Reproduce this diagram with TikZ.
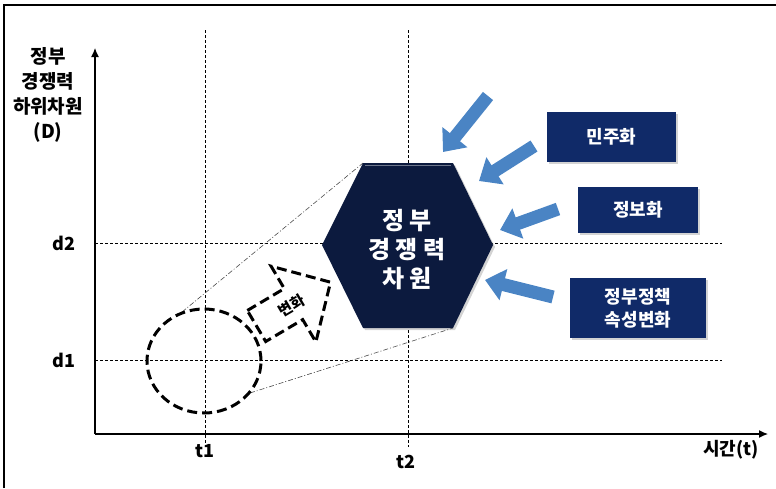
\documentclass[tikz,border=0pt]{standalone}
\usepackage{fontspec}
\setmainfont{Noto Sans CJK KR}
\usetikzlibrary{arrows.meta,shadows,shapes.geometric}
\definecolor{hexnavy}{RGB}{12,26,62}
\definecolor{boxblue}{RGB}{16,42,104}
\definecolor{arrowblue}{RGB}{74,132,196}
\begin{document}
\begin{tikzpicture}[x=1pt,y=-1pt,
  gridline/.style={line width=0.8pt, dash pattern=on 3pt off 2pt},
  axisline/.style={line width=1.2pt, -{Latex[length=9pt,width=8pt]}},
  tangent/.style={line width=0.6pt, dash pattern=on 5pt off 2pt on 1pt off 2pt, black!70},
  bigdash/.style={line width=3pt, dash pattern=on 10pt off 5pt},
  factor/.style={fill=boxblue, text=white, font=\bfseries\fontsize{18}{23}\selectfont, align=center, inner sep=0pt,
     drop shadow={shadow xshift=2pt, shadow yshift=-2pt, opacity=0.35}},
  bluearrow/.style={arrowblue, line width=13pt, -{Triangle[width=31pt,length=19pt]}},
  lbl/.style={font=\bfseries\fontsize{18}{20}\selectfont, inner sep=0pt}
]
\useasboundingbox (0,0) rectangle (776,488);
% frame
\draw[line width=1.4pt] (4,488) -- (4,5) -- (776,5);
% grid
\draw[gridline] (95,243) -- (722,243);
\draw[gridline] (95,360) -- (722,360);
\draw[gridline] (205,30) -- (205,447);
\draw[gridline] (408,30) -- (408,447);
% axes
\coordinate (O) at (95,434);
\coordinate (ytop) at (95,48);
\coordinate (xend) at (768,434);
\draw[axisline] (O) -- (ytop);
\draw[axisline] (O) -- (xend);
% labels
\node[lbl, align=center, font=\bfseries\fontsize{19}{25}\selectfont] (ylab) at (48,95) {정부\\경쟁력\\하위차원\\(D)};
\node[lbl] (d2) at (64,243) {d2};
\node[lbl] (d1) at (64,360) {d1};
\node[lbl] (t1) at (205,451) {t1};
\node[lbl] (t2) at (406,462) {t2};
\node[lbl] (tlab) at (731,450) {시간(t)};
% hexagon coordinates
\coordinate (htl) at (363,163);
\coordinate (htr) at (453,163);
\coordinate (hr) at (493,245);
\coordinate (hbr) at (453,328);
\coordinate (hbl) at (363,328);
\coordinate (hl) at (322,245);
% tangents
\coordinate (c1) at (182,312);
\coordinate (c2) at (250,393);
\draw[tangent] (c1) -- (htl);
\draw[tangent] (c2) -- (hbr);
% dashed circle
\node[draw, bigdash, ellipse, minimum width=114pt, minimum height=104pt, inner sep=0pt] (circ) at (204,361) {};
% change arrow
\draw[bigdash, line join=miter] (247.3,310.5) -- (284.3,288.6) -- (271.1,266.2) -- (330.5,282.2) -- (315.9,342) -- (302.7,319.6) -- (265.7,341.5) -- cycle;
\node[font=\bfseries\fontsize{15}{18}\selectfont, rotate=30.6, inner sep=0pt] (chg) at (292,306) {변화};
% hexagon
\fill[hexnavy, drop shadow={shadow xshift=2pt, shadow yshift=-2pt, opacity=0.35}] (htl) -- (htr) -- (hr) -- (hbr) -- (hbl) -- (hl) -- cycle;
\draw[line width=1.2pt, hexnavy!60!white] (365,165.5) -- (451,165.5);
\node[text=white, font=\bfseries\fontsize{24}{29}\selectfont, align=center] (hex) at (407,250) {정 부\\경 쟁 력\\차 원};
% factor boxes
\node[factor, minimum width=129pt, minimum height=50pt] (b1) at (611.5,137) {민주화};
\node[factor, minimum width=120pt, minimum height=46pt] (b2) at (638,210) {정보화};
\node[factor, minimum width=136pt, minimum height=60pt] (b3) at (638,308) {정부정책\\속성변화};
% blue arrows
\coordinate (a1s) at (488,96);  \coordinate (a1e) at (443,152);
\coordinate (a2s) at (534,146); \coordinate (a2e) at (479,181);
\coordinate (a3s) at (558,209); \coordinate (a3e) at (500,230);
\coordinate (a4s) at (553,297); \coordinate (a4e) at (485,280);
\draw[bluearrow] (a1s) -- (a1e);
\draw[bluearrow] (a2s) -- (a2e);
\draw[bluearrow] (a3s) -- (a3e);
\draw[bluearrow] (a4s) -- (a4e);
\end{tikzpicture}
\end{document}
